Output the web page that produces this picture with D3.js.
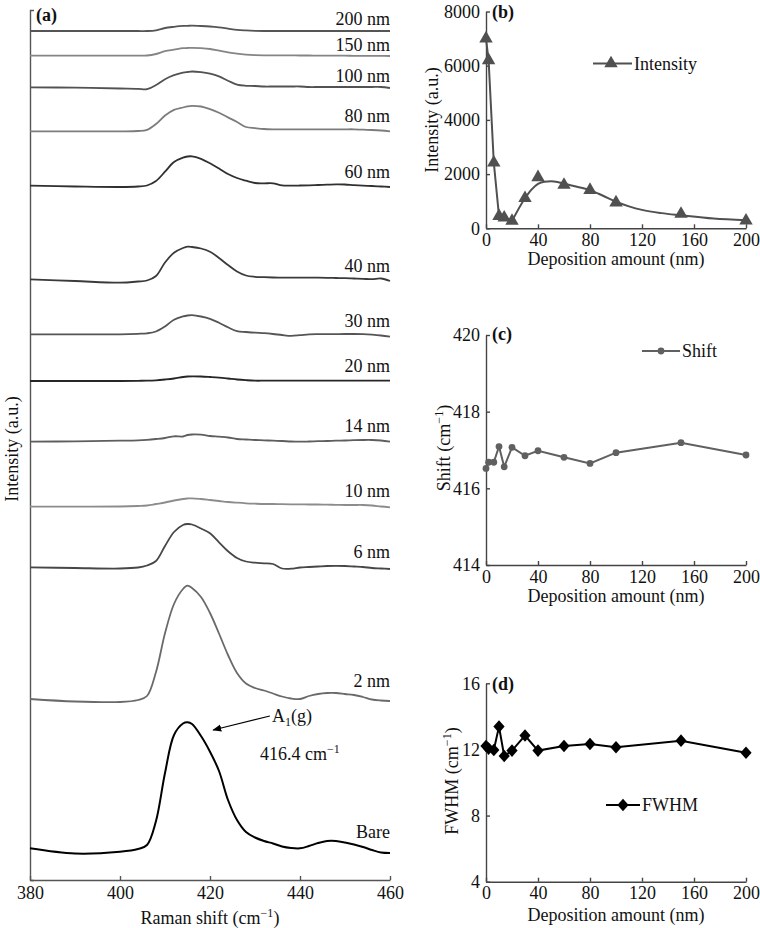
<!DOCTYPE html>
<html>
<head>
<meta charset="utf-8">
<script src="https://cdn.jsdelivr.net/npm/d3@7"></script>
<style>
  html, body { margin: 0; padding: 0; background: #fff; }
  svg { display: block; font-family: "Liberation Serif", "Times New Roman", serif; }
  text { fill: #111; }
</style>
</head>
<body>
<svg id="chart" width="760" height="928"></svg>
<script>
// ---------------- DATA ----------------
// Panel (a): Raman shift grid (cm^-1) and stacked spectra (intensity, a.u.)
const ramanShift = [380, 390, 400, 404, 406, 408, 410, 412, 414, 415, 416, 418, 420, 422, 424, 426, 428, 430, 432, 434, 436, 438, 440, 442, 444, 446, 448, 450, 452, 454, 456, 458, 460];

const specBare = [31.7, 26.5, 28.3, 31, 35, 59, 107, 145, 156.5, 157.7, 156, 144, 128.3, 109, 80, 60, 48, 42.5, 39, 36.5, 33.5, 32, 31.7, 34, 37, 39, 39, 37.5, 35.5, 33, 30, 27.5, 27];
const spec2nm = [181, 178.5, 178, 180, 184, 208, 246.7, 276, 291, 294.3, 292, 283, 267, 246.5, 225, 207, 196.5, 192, 189.5, 186.5, 183.5, 181.5, 181, 184, 186, 187, 187, 186, 185, 183, 180.5, 179.5, 179];
const spec6nm = [312.7, 312, 311.5, 312.5, 314.5, 319, 334, 348, 355, 356, 355.5, 351.5, 346.7, 337.7, 328.7, 322, 318.5, 317.3, 316.7, 316, 311.5, 311.3, 312.5, 313, 313.5, 314, 314.2, 314, 313.5, 313, 312, 311.5, 311];
const spec10nm = [373.3, 373.3, 373.5, 374, 374.5, 376, 377.5, 379.5, 381, 381.5, 381.7, 381, 380, 379, 378, 377.3, 376.7, 376.3, 376, 376, 375.8, 375.7, 375.7, 375.5, 375.5, 375.3, 375.2, 375, 375, 375, 374.5, 373.5, 372.7];
const spec14nm = [438.3, 438.7, 439.3, 439.7, 440.2, 441, 442, 443.7, 443.5, 445, 445.5, 445.3, 444, 443.3, 442.5, 441, 440.5, 440, 439.7, 439.3, 439, 438.5, 438.3, 438.5, 438.8, 439, 439.3, 439.5, 439.8, 440, 440, 439.5, 438.3];
const spec20nm = [499, 499, 499, 499.2, 499.3, 499.7, 500.5, 501.5, 503, 503.5, 503.7, 503.5, 503, 502.4, 501.5, 500.5, 499.8, 499.3, 499.3, 499.3, 499.3, 499.3, 499.3, 499.3, 499.3, 499.3, 499.3, 499.3, 499.3, 499.3, 499.3, 499.3, 499.3];
const spec30nm = [545.7, 545.7, 545.7, 546.2, 546.7, 548.5, 553.5, 560.3, 563.6, 564.5, 564.8, 563.5, 561.2, 557.2, 552.7, 548.8, 548, 547.3, 546.8, 546, 545, 544.2, 544.8, 545.6, 545.8, 545.8, 545.9, 546, 546, 545.8, 545.3, 544.5, 543.3];
const spec40nm = [600.7, 599, 597.3, 598.5, 599.5, 604, 617.5, 627.3, 632, 633.3, 633, 631.5, 628.3, 622, 615, 608.5, 604.5, 603.2, 602.8, 602.5, 602.3, 602.3, 602.3, 602.3, 602.3, 602.2, 602, 601.8, 601.5, 601.2, 600.8, 601.5, 599];
const spec60nm = [694.3, 693.5, 693, 693.5, 694.5, 699, 708.3, 718, 722.4, 723.5, 723.7, 721.2, 716.7, 711.5, 706, 702, 699.3, 697, 696.7, 696.7, 694.6, 694.4, 694.5, 694.7, 695, 695.3, 695.6, 695.5, 694.8, 694.3, 694, 693.5, 693];
const spec80nm = [748.7, 748.7, 748.7, 749, 750.2, 756, 764.5, 770.2, 772.5, 773.7, 774.2, 773.5, 770.8, 767.2, 762.6, 758, 753, 751.9, 751, 750.7, 750.7, 750.7, 750.7, 750.7, 750.7, 750.7, 750.7, 750.7, 750.7, 750.3, 750, 749.5, 748.7];
const spec100nm = [792.7, 792.3, 791.5, 791.2, 790.8, 795, 800.8, 804.8, 807.3, 808, 808.5, 807.8, 806.3, 803.6, 799.3, 795.4, 794.2, 794, 793.5, 793.5, 793.5, 793.5, 793.5, 793, 793, 793, 793, 793, 793, 793, 793, 793, 792];
const spec150nm = [824.3, 824.3, 824.3, 824.3, 824.5, 826, 828.8, 830.3, 831.8, 832, 832.2, 831.8, 831, 829.4, 827.7, 826.3, 825.4, 824.9, 824.7, 824.7, 824.6, 824.6, 824.5, 824.5, 824.4, 824.4, 824.3, 824.3, 824.2, 824.2, 824.1, 824.1, 824];
const spec200nm = [849, 849, 849, 849, 849, 849.7, 852, 853.2, 854.1, 854.2, 854.3, 854, 853.5, 852.6, 851.4, 850.2, 849.6, 849.2, 849, 849, 849, 849, 849, 849, 849, 849, 849, 849, 849, 849, 849, 849, 849];

const spectrumLabels = ["Bare", "2 nm", "6 nm", "10 nm", "14 nm", "20 nm", "30 nm", "40 nm", "60 nm", "80 nm", "100 nm", "150 nm", "200 nm"];
const spectra = [specBare, spec2nm, spec6nm, spec10nm, spec14nm, spec20nm, spec30nm, spec40nm, spec60nm, spec80nm, spec100nm, spec150nm, spec200nm];
const xTicksA = [380, 400, 420, 440, 460];

// Panels (b)-(d)
const deposition = [0, 2, 6, 10, 14, 20, 30, 40, 60, 80, 100, 150, 200];
const intensity = [7000, 6200, 2420, 450, 390, 270, 1110, 1880, 1600, 1410, 950, 530, 280];
// smooth fitted curve drawn in (b) from 20 nm onward
const fitDeposition = [20, 30, 35, 40, 45, 50, 55, 60, 70, 80, 90, 100, 110, 120, 135, 150, 175, 200];
const fitIntensity = [270, 1110, 1430, 1640, 1720, 1735, 1710, 1650, 1530, 1410, 1200, 980, 810, 680, 560, 480, 360, 300];
const shift = [416.52, 416.68, 416.68, 417.09, 416.56, 417.07, 416.85, 416.98, 416.81, 416.65, 416.93, 417.19, 416.87];
const fwhm = [12.21, 12.05, 11.97, 13.38, 11.6, 11.93, 12.84, 11.93, 12.21, 12.33, 12.13, 12.53, 11.8];

const xTicksDep = [0, 40, 80, 120, 160, 200];
const yTicksB = [0, 2000, 4000, 6000, 8000];
const yTicksC = [414, 416, 418, 420];
const yTicksD = [4, 8, 12, 16];

// ---------------- DRAWING ----------------
const svg = d3.select("#chart");
const FS = 18;

const specColors = ["#000000", "#6a6a6a", "#474747", "#8c8c8c", "#5e5e5e", "#262626", "#555555", "#3a3a3a", "#303030", "#7c7c7c", "#525252", "#858585", "#555555"];
const labelDy = [15, 14, 11, 10, 10, 9, 10, 9, 9, 9, 6, 5, 6];

function styleAxis(g, color) {
  g.selectAll("path, line").attr("stroke", color).attr("stroke-width", 1.4);
  g.selectAll("text").attr("font-size", FS).attr("font-family", "Liberation Serif, Times New Roman, serif").attr("fill", "#111");
}

// ----- Panel (a) -----
const xA = d3.scaleLinear().domain([380, 460]).range([30, 390]);
const yA = d3.scaleLinear().domain([0, 870]).range([880, 10]);

const gA = svg.append("g");
gA.append("g").attr("transform", "translate(0,880)")
  .call(d3.axisBottom(xA).tickValues(xTicksA).tickSizeInner(-4).tickSizeOuter(0).tickPadding(6).tickFormat(d3.format("d")))
  .call(g => styleAxis(g, "#555"));
gA.append("g").attr("transform", "translate(30,0)")
  .call(d3.axisLeft(yA).tickValues([]).tickSizeOuter(-4))
  .call(g => styleAxis(g, "#555"));

const lineA = d3.line().x((d, i) => xA(ramanShift[i])).y(d => yA(d)).curve(d3.curveCatmullRom.alpha(0.5));
spectra.forEach((s, k) => {
  gA.append("path").attr("d", lineA(s)).attr("fill", "none")
    .attr("stroke", specColors[k]).attr("stroke-width", k === 0 ? 2 : 1.8).attr("stroke-linejoin", "round");
  gA.append("text").attr("x", xA(460)).attr("y", yA(s[s.length - 1]) - labelDy[k])
    .attr("text-anchor", "end").attr("font-size", FS).text(spectrumLabels[k]);
});

gA.append("text").attr("x", 36).attr("y", 21).attr("font-size", FS).attr("font-weight", "bold").text("(a)");

// axis titles (a)
const tA = gA.append("text").attr("x", 210).attr("y", 924).attr("text-anchor", "middle").attr("font-size", FS);
tA.append("tspan").text("Raman shift (cm");
tA.append("tspan").attr("dy", -7).attr("font-size", 12).text("−1");
tA.append("tspan").attr("dy", 7).text(")");
gA.append("text").attr("transform", "translate(12,449) rotate(-90)").attr("text-anchor", "middle")
  .attr("dy", "0.35em").attr("font-size", FS).text("Intensity (a.u.)");

// annotation
const defs = svg.append("defs");
defs.append("marker").attr("id", "arr").attr("viewBox", "0 0 10 10").attr("refX", 9).attr("refY", 5)
  .attr("markerWidth", 9).attr("markerHeight", 9).attr("markerUnits", "userSpaceOnUse").attr("orient", "auto")
  .append("path").attr("d", "M0,1 L10,5 L0,9 Z").attr("fill", "#000");
gA.append("line").attr("x1", xA(433.3)).attr("y1", yA(164)).attr("x2", xA(420.7)).attr("y2", yA(150))
  .attr("stroke", "#000").attr("stroke-width", 1.1).attr("marker-end", "url(#arr)");
const a1 = gA.append("text").attr("x", xA(433.8)).attr("y", yA(158)).attr("font-size", FS);
a1.append("tspan").text("A");
a1.append("tspan").attr("dy", 4).attr("font-size", 12).text("1");
a1.append("tspan").attr("dy", -4).text("(g)");
const pk = gA.append("text").attr("x", xA(431.1)).attr("y", yA(120)).attr("font-size", FS);
pk.append("tspan").text("416.4 cm");
pk.append("tspan").attr("dy", -7).attr("font-size", 12).text("−1");

// ----- shared x scale for (b)-(d) -----
const xDep = d3.scaleLinear().domain([0, 200]).range([486, 746]);

function depPanel(yScale, yTicks, axisY, titleY, yTitleParts, yTitleX, yTitleY, label, labelY) {
  const g = svg.append("g");
  g.append("g").attr("transform", `translate(0,${axisY})`)
    .call(d3.axisBottom(xDep).tickValues(xTicksDep).tickSizeInner(-4).tickSizeOuter(0).tickPadding(5))
    .call(gg => styleAxis(gg, "#444"));
  g.append("g").attr("transform", "translate(486,0)")
    .call(d3.axisLeft(yScale).tickValues(yTicks).tickSizeInner(-4).tickSizeOuter(0).tickPadding(6).tickFormat(d3.format("d")))
    .call(gg => styleAxis(gg, "#444"));
  g.append("text").attr("x", 616).attr("y", titleY).attr("text-anchor", "middle").attr("font-size", FS)
    .text("Deposition amount (nm)");
  const yt = g.append("text").attr("transform", `translate(${yTitleX},${yTitleY}) rotate(-90)`)
    .attr("text-anchor", "middle").attr("dy", "0.35em").attr("font-size", FS);
  yTitleParts(yt);
  g.append("text").attr("x", 492).attr("y", labelY).attr("font-size", FS).attr("font-weight", "bold").text(label);
  return g;
}
function cmTitle(prefix) {
  return t => {
    t.append("tspan").text(prefix + " (cm");
    t.append("tspan").attr("dy", -7).attr("font-size", 12).text("−1");
    t.append("tspan").attr("dy", 7).text(")");
  };
}

// ----- Panel (b) -----
const yB = d3.scaleLinear().domain([0, 8000]).range([228.3, 11.5]);
const gB = depPanel(yB, yTicksB, 228.3, 265, t => t.text("Intensity (a.u.)"), 432, 120, "(b)", 18);
const colB = "#505050";
gB.append("path").attr("fill", "none").attr("stroke", colB).attr("stroke-width", 2)
  .attr("d", d3.line().x(d => xDep(d[0])).y(d => yB(d[1]))(deposition.slice(0, 6).map((d, i) => [d, intensity[i]])));
gB.append("path").attr("fill", "none").attr("stroke", colB).attr("stroke-width", 2)
  .attr("d", d3.line().x(d => xDep(d[0])).y(d => yB(d[1])).curve(d3.curveMonotoneX)(fitDeposition.map((d, i) => [d, fitIntensity[i]])));
const tri = d3.symbol().type(d3.symbolTriangle).size(78);
gB.selectAll(".tri").data(deposition).enter().append("path")
  .attr("d", tri).attr("transform", (d, i) => `translate(${xDep(d)},${yB(intensity[i])})`).attr("fill", colB);
// legend (b)
gB.append("line").attr("x1", 593).attr("x2", 632).attr("y1", 63.5).attr("y2", 63.5).attr("stroke", colB).attr("stroke-width", 2);
gB.append("path").attr("d", tri).attr("transform", "translate(611,63.5)").attr("fill", colB);
gB.append("text").attr("x", 634).attr("y", 70).attr("font-size", FS).text("Intensity");

// ----- Panel (c) -----
const yC = d3.scaleLinear().domain([414, 420]).range([565, 335]);
const gC = depPanel(yC, yTicksC, 565, 602, cmTitle("Shift"), 444, 448, "(c)", 340);
const colC = "#606060";
gC.append("path").attr("fill", "none").attr("stroke", colC).attr("stroke-width", 2)
  .attr("d", d3.line().x(d => xDep(d[0])).y(d => yC(d[1]))(deposition.map((d, i) => [d, shift[i]])));
gC.selectAll(".dot").data(deposition).enter().append("circle")
  .attr("cx", d => xDep(d)).attr("cy", (d, i) => yC(shift[i])).attr("r", 3.4).attr("fill", colC);
gC.append("line").attr("x1", 642).attr("x2", 680).attr("y1", 351).attr("y2", 351).attr("stroke", colC).attr("stroke-width", 2);
gC.append("circle").attr("cx", 661).attr("cy", 351).attr("r", 3.4).attr("fill", colC);
gC.append("text").attr("x", 682).attr("y", 357).attr("font-size", FS).text("Shift");

// ----- Panel (d) -----
const yD = d3.scaleLinear().domain([4, 16]).range([881.7, 683.3]);
const gD = depPanel(yD, yTicksD, 881.7, 921, cmTitle("FWHM"), 452, 781, "(d)", 690);
const colD = "#000";
gD.append("path").attr("fill", "none").attr("stroke", colD).attr("stroke-width", 2)
  .attr("d", d3.line().x(d => xDep(d[0])).y(d => yD(d[1]))(deposition.map((d, i) => [d, fwhm[i]])));
const diamond = "M0,-6.3L5.6,0L0,6.3L-5.6,0Z";
gD.selectAll(".dia").data(deposition).enter().append("path")
  .attr("d", diamond).attr("transform", (d, i) => `translate(${xDep(d)},${yD(fwhm[i])})`).attr("fill", colD);
gD.append("line").attr("x1", 606).attr("x2", 640).attr("y1", 805).attr("y2", 805).attr("stroke", colD).attr("stroke-width", 2);
gD.append("path").attr("d", diamond).attr("transform", "translate(623,805)").attr("fill", colD);
gD.append("text").attr("x", 642).attr("y", 811).attr("font-size", FS).text("FWHM");
</script>
</body>
</html>
